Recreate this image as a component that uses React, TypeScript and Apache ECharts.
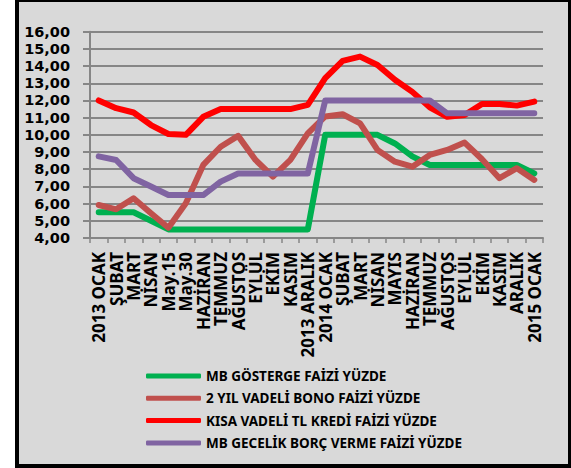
import React, { useEffect, useRef } from "react";
import * as echarts from "echarts";

const categories = [
  "2013 OCAK", "ŞUBAT", "MART", "NİSAN", "May.15", "May.30", "HAZİRAN", "TEMMUZ", "AĞUSTOS", "EYLÜL", "EKİM", "KASIM", "2013 ARALIK",
  "2014 OCAK", "ŞUBAT", "MART", "NİSAN", "MAYIS", "HAZİRAN", "TEMMUZ", "AĞUSTOS", "EYLÜL", "EKİM", "KASIM", "ARALIK", "2015 OCAK",
];

const mbGosterge = [5.5, 5.5, 5.5, 5.0, 4.5, 4.5, 4.5, 4.5, 4.5, 4.5, 4.5, 4.5, 4.5, 10.0, 10.0, 10.0, 10.0, 9.5, 8.75, 8.25, 8.25, 8.25, 8.25, 8.25, 8.25, 7.75];
const bono2Yil = [5.92, 5.67, 6.31, 5.44, 4.6, 6.02, 8.25, 9.31, 9.94, 8.54, 7.57, 8.54, 10.09, 11.07, 11.2, 10.67, 9.12, 8.44, 8.15, 8.83, 9.12, 9.55, 8.58, 7.48, 8.06, 7.38];
const kisaVadeliKredi = [12.0, 11.55, 11.3, 10.57, 10.05, 10.0, 11.05, 11.5, 11.5, 11.5, 11.5, 11.5, 11.74, 13.3, 14.3, 14.55, 14.06, 13.2, 12.5, 11.6, 11.05, 11.15, 11.8, 11.8, 11.7, 11.93];
const mbGecelik = [8.75, 8.54, 7.48, 7.0, 6.5, 6.5, 6.5, 7.28, 7.75, 7.75, 7.75, 7.75, 7.75, 12.0, 12.0, 12.0, 12.0, 12.0, 12.0, 12.0, 11.25, 11.25, 11.25, 11.25, 11.25, 11.25];

const seriesNames = [
  "MB GÖSTERGE FAİZİ YÜZDE",
  "2 YIL VADELİ BONO FAİZİ YÜZDE",
  "KISA VADELİ TL KREDİ FAİZİ YÜZDE",
  "MB GECELİK BORÇ VERME FAİZİ YÜZDE",
];
const seriesColors = ["#00b050", "#c0504d", "#ff0000", "#8064a2"];

export default function App() {
  const ref = useRef<HTMLDivElement>(null);
  useEffect(() => {
    document.body.style.margin = "0";
    if (!ref.current) return;
    const chart = echarts.init(ref.current, undefined, { renderer: "svg" });
    const font = "'Noto Sans', sans-serif";
    const datasets = [mbGosterge, bono2Yil, kisaVadeliKredi, mbGecelik];
    chart.setOption({
      animation: false,
      backgroundColor: "#ffffff",
      graphic: [
        { type: "rect", z: -10, shape: { x: 15, y: 0, width: 556, height: 468 }, style: { fill: "#000000" } },
        { type: "rect", z: -9, shape: { x: 19, y: 2, width: 549, height: 462 }, style: { fill: "#d9d9d9" } },
      ],
      grid: { left: 90, right: 28, top: 31.7, bottom: 230, containLabel: false },
      legend: {
        orient: "vertical",
        left: 146,
        top: 369,
        padding: 0,
        icon: "roundRect",
        itemWidth: 55,
        itemHeight: 5,
        itemGap: 8.3,
        data: seriesNames,
        textStyle: { fontFamily: font, fontWeight: "bold", fontSize: 13.5, color: "#000", lineHeight: 14 },
      },
      xAxis: {
        type: "category",
        data: categories,
        boundaryGap: true,
        axisLine: { lineStyle: { color: "#868686", width: 2 } },
        axisTick: { show: true, interval: 0, length: 5, lineStyle: { color: "#868686", width: 1.5 } },
        axisLabel: {
          interval: 0,
          rotate: 90,
          margin: 14,
          fontFamily: font,
          fontWeight: "bold",
          fontSize: 17,
          lineHeight: 17,
          color: "#000",
        },
      },
      yAxis: {
        type: "value",
        min: 4,
        max: 16,
        interval: 1,
        axisLine: { show: true, lineStyle: { color: "#868686", width: 2 } },
        axisTick: { show: true, length: 7, lineStyle: { color: "#868686", width: 2 } },
        splitLine: { lineStyle: { color: "#868686", width: 2 } },
        axisLabel: {
          margin: 20,
          fontFamily: "'DejaVu Sans', sans-serif",
          fontWeight: "bold",
          fontSize: 14.5,
          lineHeight: 16,
          color: "#000",
          formatter: (v: number) => v.toFixed(2).replace(".", ","),
        },
      },
      series: datasets.map((d, i) => ({
        name: seriesNames[i],
        type: "line",
        data: d,
        showSymbol: false,
        symbol: "none",
        color: seriesColors[i],
        lineStyle: { color: seriesColors[i], width: 6, cap: "round", join: "round" },
        itemStyle: { color: seriesColors[i] },
      })),
    });
    return () => chart.dispose();
  }, []);
  return <div ref={ref} style={{ width: 571, height: 468 }} />;
}
